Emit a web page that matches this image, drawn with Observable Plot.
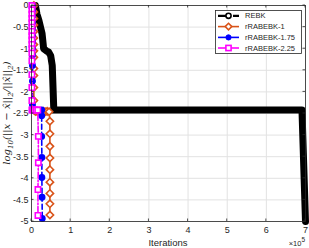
<!DOCTYPE html>
<html><head><meta charset="utf-8">
<script src="https://cdn.jsdelivr.net/npm/d3@7"></script>
<script src="https://cdn.jsdelivr.net/npm/@observablehq/plot@0.6"></script>
<style>body{margin:0;background:#fff;} svg{display:block;}</style>
</head><body><div id="chart"></div>
<script>
const xTicks = [0, 100000, 200000, 300000, 400000, 500000, 600000, 700000];
const yTicks = [0, -0.5, -1, -1.5, -2, -2.5, -3, -3.5, -4, -4.5, -5];
const seriesNames = ["REBK", "rRABEBK-1", "rRABEBK-1.75", "rRABEBK-2.25"];
const seriesColors = ["#000000", "#D95319", "#0000FF", "#FF00FF"];

const rebkX = [10000, 14000, 19000, 23000, 27000, 31000, 38000, 44000, 49000, 53000, 55000, 57000, 100000, 200000, 300000, 400000, 500000, 600000, 691000, 700000];
const rebkY = [0, -0.2, -0.35, -0.5, -0.65, -1.0, -1.05, -1.08, -1.16, -1.39, -1.9, -2.42, -2.42, -2.42, -2.42, -2.42, -2.42, -2.42, -2.42, -5];

const r1X = [6000, 6000, 6000, 6000, 6000, 6000, 6000, 6000, 6000, 6000, 6000, 6000, 6000, 6000, 10000, 15000, 20000, 25000, 30000, 35000, 40000, 45000, 47000, 47000, 47000, 47000, 47000, 47000, 47000, 47000, 47000];
const r1Y = [0, -0.15, -0.3, -0.45, -0.6, -0.75, -0.9, -1.05, -1.2, -1.46, -1.62, -1.9, -2.2, -2.42, -2.45, -2.46, -2.45, -2.47, -2.45, -2.46, -2.45, -2.46, -2.68, -2.97, -3.26, -3.53, -3.8, -4.09, -4.35, -4.59, -4.85];

const r175X = [2500, 2500, 2500, 2500, 2500, 2500, 2500, 2500, 2500, 2500, 2500, 2500, 2500, 26000, 26000, 26000, 26500, 26500, 27000, 27500];
const r175Y = [0, -0.12, -0.25, -0.4, -0.55, -0.7, -0.85, -1.0, -1.15, -1.39, -1.75, -2.3, -2.42, -2.42, -2.55, -3.03, -3.52, -3.98, -4.44, -4.93];

const r225X = [1000, 1000, 1000, 1000, 1000, 1000, 1000, 1000, 1000, 1000, 1000, 1000, 1000, 1000, 1000, 1000, 1000, 4000, 8000, 12000, 16000, 17500, 17500, 16500, 16500];
const r225Y = [0, -0.1, -0.2, -0.3, -0.4, -0.5, -0.6, -0.7, -0.8, -0.9, -1.0, -1.1, -1.28, -1.6, -1.9, -2.2, -2.42, -2.42, -2.42, -2.42, -2.42, -3.03, -3.64, -4.26, -4.86];

const mk = (xs, ys) => xs.map((x, i) => ({x, y: ys[i]}));
const rebk = mk(rebkX, rebkY), r1 = mk(r1X, r1Y), r175 = mk(r175X, r175Y), r225 = mk(r225X, r225Y);

const font = "'Liberation Sans', Arial, Helvetica, sans-serif";
const plot = Plot.plot({
  width: 309, height: 248,
  marginLeft: 31, marginRight: 4, marginTop: 5, marginBottom: 27,
  style: {fontFamily: font, fontSize: "9px", color: "#262626", background: "#fff"},
  x: {domain: [0, 700000], label: null},
  y: {domain: [-5, 0], label: null},
  marks: [
    Plot.gridX(xTicks, {stroke: "#e2e2e2", strokeOpacity: 1}),
    Plot.gridY(yTicks, {stroke: "#e2e2e2", strokeOpacity: 1}),
    Plot.axisX(xTicks, {tickSize: 0, tickPadding: 5, tickFormat: d => d / 100000, label: null, fontSize: 9}),
    Plot.axisY(yTicks, {tickSize: 0, tickPadding: 3, tickFormat: d => d === 0 ? "0" : String(d), label: null, fontSize: 9}),
    Plot.line(rebk, {x: "x", y: "y", stroke: seriesColors[0], strokeWidth: 7, strokeLinejoin: "round", strokeLinecap: "round"}),
    Plot.line(r1, {x: "x", y: "y", stroke: seriesColors[1], strokeWidth: 1.6}),
    Plot.dot(r1, {x: "x", y: "y", symbol: "diamond2", r: 3.3, stroke: seriesColors[1], strokeWidth: 1.6, fill: "#fff"}),
    Plot.line(r175, {x: "x", y: "y", stroke: seriesColors[2], strokeWidth: 1.6, strokeDasharray: "5,3"}),
    Plot.dot(r175, {x: "x", y: "y", r: 2.7, fill: seriesColors[2], stroke: seriesColors[2]}),
    Plot.line(r225, {x: "x", y: "y", stroke: seriesColors[3], strokeWidth: 1.6, strokeDasharray: "6,2,1.5,2"}),
    Plot.dot(r225, {x: "x", y: "y", symbol: "square", r: 3, stroke: seriesColors[3], strokeWidth: 1.6, fill: "#fff"}),
    Plot.frame({stroke: "#262626", strokeWidth: 0.8})
  ]
});
document.getElementById("chart").appendChild(plot);

const svg = d3.select(plot);
const sx = plot.scale("x"), sy = plot.scale("y");
const x0 = sx.apply(0), x1 = sx.apply(700000), y0 = sy.apply(0), y1 = sy.apply(-5);
const tg = svg.append("g").attr("stroke", "#262626").attr("stroke-width", 0.8);
xTicks.forEach(t => {
  const px = sx.apply(t);
  tg.append("line").attr("x1", px).attr("x2", px).attr("y1", y1).attr("y2", y1 - 2.5);
  tg.append("line").attr("x1", px).attr("x2", px).attr("y1", y0).attr("y2", y0 + 2.5);
});
yTicks.forEach(t => {
  const py = sy.apply(t);
  tg.append("line").attr("x1", x0).attr("x2", x0 + 2.5).attr("y1", py).attr("y2", py);
  tg.append("line").attr("x1", x1).attr("x2", x1 - 2.5).attr("y1", py).attr("y2", py);
});

// axis labels
svg.append("text").attr("x", (x0 + x1) / 2).attr("y", 246).attr("text-anchor", "middle")
  .attr("font-family", font).attr("font-size", 9.5).attr("fill", "#262626").text("Iterations");
const ex = svg.append("text").attr("x", x1).attr("y", 246).attr("text-anchor", "end")
  .attr("font-family", font).attr("font-size", 7.5).attr("fill", "#262626");
ex.append("tspan").text("×10");
ex.append("tspan").attr("dy", -4).attr("font-size", 6.5).text("5");

const yl = svg.append("text").attr("transform", `translate(10,${(y0 + y1) / 2}) rotate(-90)`)
  .attr("text-anchor", "middle").attr("font-family", "'DejaVu Serif', 'Liberation Serif', serif")
  .attr("font-style", "italic").attr("font-size", 10).attr("fill", "#262626");
yl.append("tspan").text("log");
yl.append("tspan").attr("dy", 3).attr("font-size", 7).text("10");
yl.append("tspan").attr("dy", -3).text("(||x − x̂||");
yl.append("tspan").attr("dy", 3).attr("font-size", 7).text("2");
yl.append("tspan").attr("dy", -3).text("/||x̂||");
yl.append("tspan").attr("dy", 3).attr("font-size", 7).text("2");
yl.append("tspan").attr("dy", -3).text(")");

// legend
const lg = svg.append("g");
lg.append("rect").attr("x", 215.5).attr("y", 10.5).attr("width", 86).attr("height", 43)
  .attr("fill", "#fff").attr("stroke", "#262626").attr("stroke-width", 0.8);
const rowsY = [15.8, 26.6, 37.4, 48];
const dashes = ["8,2,3,2", null, null, null];
seriesNames.forEach((name, i) => {
  const yy = rowsY[i], c = seriesColors[i];
  const ln = lg.append("line").attr("x1", 218).attr("x2", 239).attr("y1", yy).attr("y2", yy)
    .attr("stroke", c).attr("stroke-width", i === 0 ? 2.2 : 1.6);
  if (dashes[i]) ln.attr("stroke-dasharray", dashes[i]);
  const mx = 228.5;
  if (i === 0) lg.append("circle").attr("cx", mx).attr("cy", yy).attr("r", 2.6).attr("fill", "#fff").attr("stroke", c).attr("stroke-width", 1.6);
  if (i === 1) lg.append("path").attr("d", `M${mx},${yy - 3.3}L${mx + 3.3},${yy}L${mx},${yy + 3.3}L${mx - 3.3},${yy}Z`).attr("fill", "#fff").attr("stroke", c).attr("stroke-width", 1.6);
  if (i === 2) lg.append("circle").attr("cx", mx).attr("cy", yy).attr("r", 2.6).attr("fill", c).attr("stroke", c);
  if (i === 3) lg.append("rect").attr("x", mx - 2.6).attr("y", yy - 2.6).attr("width", 5.2).attr("height", 5.2).attr("fill", "#fff").attr("stroke", c).attr("stroke-width", 1.6);
  lg.append("text").attr("x", 245).attr("y", yy).attr("dy", "0.35em").attr("text-anchor", "start").attr("font-family", font)
    .attr("font-size", 7.5).attr("fill", "#262626").text(name);
});
</script>
</body></html>
